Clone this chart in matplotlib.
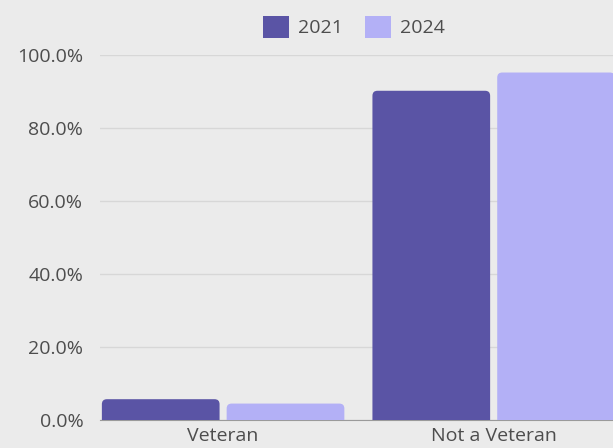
import numpy as np
import matplotlib.pyplot as plt
from matplotlib.patches import FancyBboxPatch, Patch

plt.rcParams['font.family'] = ['Open Sans', 'DejaVu Sans']

# ---------------- data ----------------
categories = ['Veteran', 'Not a Veteran']
years = ['2021', '2024']
vals_2021 = [5.7, 90.2]
vals_2024 = [4.5, 95.2]
colors = ['#5a54a5', '#b3b0f6']

# ---------------- plot ----------------
fig = plt.figure(figsize=(6.13, 4.48), dpi=100)
fig.patch.set_facecolor('#ebebeb')
ax = fig.add_axes([100 / 613, 28 / 448, 1 - 100 / 613, 365 / 448])
ax.set_facecolor('#ebebeb')

x = np.arange(len(categories))
w = 0.435
off = 0.2306
bars1 = ax.bar(x - off, vals_2021, w, color=colors[0], zorder=3)
bars2 = ax.bar(x + off, vals_2024, w, color=colors[1], zorder=3)

ax.set_xlim(-0.455, 1.441)
ax.set_ylim(0, 100)

# swap plain bars for ones with rounded tops
px_x = (1.441 + 0.455) / (613 - 100)
px_y = 100 / 365
for bars in (bars1, bars2):
    for r in bars:
        bx, bw, bh = r.get_x(), r.get_width(), r.get_height()
        r.set_visible(False)
        p = FancyBboxPatch((bx, -3), bw, bh + 3,
                           boxstyle='round,pad=0,rounding_size=%f' % (5 * px_x),
                           mutation_aspect=px_y / px_x,
                           facecolor=r.get_facecolor(), edgecolor='none', zorder=3)
        ax.add_patch(p)

ax.set_yticks(np.arange(0, 101, 20))
ax.set_yticklabels([f'{v:.1f}%' for v in np.arange(0, 101, 20)])
ax.set_xticks(x)
ax.set_xticklabels(categories)
ax.tick_params(axis='both', length=0, labelsize=14, colors='#4d4d4d')
ax.tick_params(axis='y', pad=12)
ax.tick_params(axis='x', pad=5)

ax.grid(axis='y', color='#d7d7d7', linewidth=1, zorder=0)
ax.grid(axis='x', visible=False)
for s in ['top', 'right', 'left']:
    ax.spines[s].set_visible(False)
ax.spines['bottom'].set_color('#9a9a9a')
ax.spines['bottom'].set_zorder(2)

handles = [Patch(facecolor=c, edgecolor='none') for c in colors]
leg = ax.legend(handles, years, loc='center', ncol=2, frameon=False, fontsize=14,
                handlelength=1.34, handleheight=1.34, columnspacing=1.15,
                handletextpad=0.45, labelcolor='#4d4d4d',
                bbox_to_anchor=(354 / 613, 1 - 27 / 448),
                bbox_transform=fig.transFigure)

plt.savefig('out.png', dpi=100, facecolor=fig.get_facecolor())
